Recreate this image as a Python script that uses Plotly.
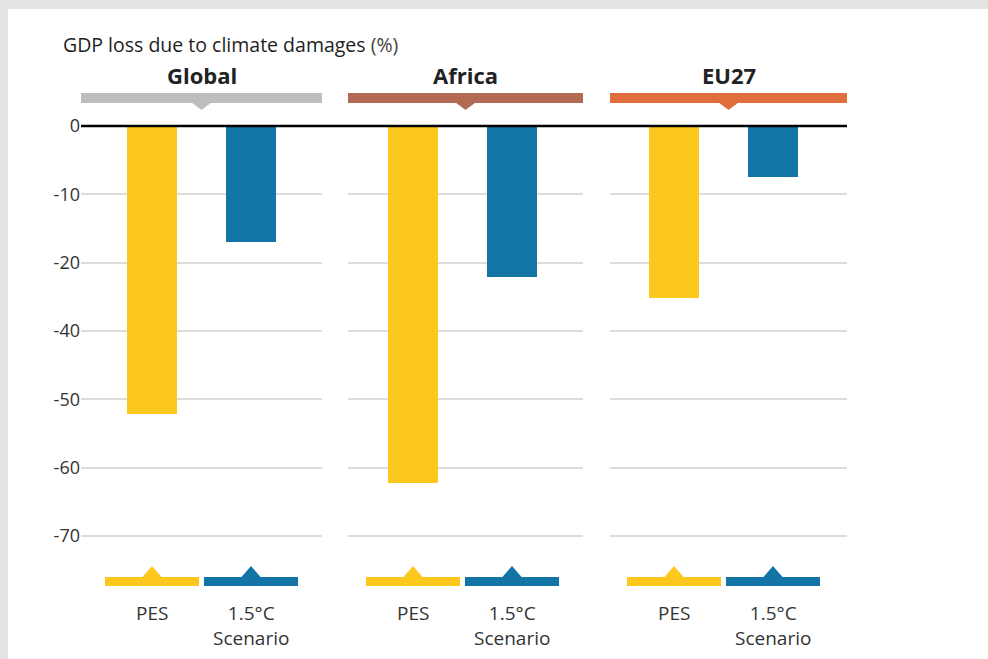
import plotly.graph_objects as go

# ---- data ----
regions = ["Global", "Africa", "EU27"]
scenarios = ["PES", "1.5°C<br>Scenario"]
pes_values = [-42.1, -52.2, -25.1]
scen15_values = [-16.9, -22.1, -7.4]
tick_vals = [0, -10, -20, -30, -40, -50, -60]
tick_text = ["0", "-10", "-20", "-40", "-50", "-60", "-70"]
title_text = "GDP loss due to climate damages"
unit_text = "(%)"

# ---- styles ----
W, H = 988, 659
region_colors = ["#bdbdbd", "#b26a55", "#df6e3c"]
series_colors = ["#fdc81e", "#1275a6"]
panel_px = [(81, 322), (348, 583), (610, 847)]
group_mid_px = [201.5, 462.5, 723.5]
UNIT_PX = 99.0
FONT = "Open Sans"

def py(px):
    return 1 - px / H

fig = go.Figure()
series = [pes_values, scen15_values]
for i, reg in enumerate(regions):
    xa = "x" if i == 0 else f"x{i+1}"
    for j, vals in enumerate(series):
        fig.add_trace(go.Bar(
            x=[j], y=[vals[i]], width=0.505, xaxis=xa, yaxis="y",
            marker=dict(color=series_colors[j], line=dict(width=0)),
            showlegend=False, hoverinfo="y",
        ))

layout = dict(
    width=W, height=H, margin=dict(l=0, r=0, t=0, b=0),
    paper_bgcolor="#e3e3e3", plot_bgcolor="rgba(0,0,0,0)",
    bargap=0, showlegend=False,
    font=dict(family=FONT, color="#333333"),
    yaxis=dict(
        domain=[py(126 + 68 * 6.83), py(126 - 3 * 6.83)], range=[-68, 3],
        tickvals=tick_vals, ticktext=tick_text, anchor="x",
        showgrid=True, gridcolor="#dcdcdc", gridwidth=2, zeroline=False,
        showline=False, ticks="", ticklabelstandoff=0,
        tickfont=dict(size=18, color="#333333", family=FONT),
    ),
)
for i, (a, b) in enumerate(panel_px):
    key = "xaxis" if i == 0 else f"xaxis{i+1}"
    lo = 0.5 - (group_mid_px[i] - a) / UNIT_PX
    hi = lo + (b - a) / UNIT_PX
    layout[key] = dict(
        domain=[a / W, b / W], range=[lo, hi], anchor="y",
        showticklabels=False, showgrid=False, zeroline=False, showline=False,
        ticks="", fixedrange=True,
    )
fig.update_layout(**layout)

shapes = []
annotations = []
# white card
shapes.append(dict(type="rect", xref="paper", yref="paper", x0=8 / W, x1=1.01,
                   y0=-0.01, y1=py(9), fillcolor="white", line=dict(width=0), layer="below"))
# zero line
shapes.append(dict(type="line", xref="paper", yref="y", x0=81 / W, x1=847 / W, y0=0, y1=0,
                   line=dict(color="black", width=2.5), layer="above"))

for i, reg in enumerate(regions):
    xd = "x domain" if i == 0 else f"x{i+1} domain"
    xr = "x" if i == 0 else f"x{i+1}"
    hw = 10 / (panel_px[i][1] - panel_px[i][0])
    shapes.append(dict(type="rect", xref=xd, yref="paper", x0=0, x1=1,
                       y0=py(103), y1=py(93), fillcolor=region_colors[i], line=dict(width=0)))
    shapes.append(dict(type="path", xref=xd, yref="paper",
                       path=f"M {0.5 - hw},{py(102.5)} L 0.5,{py(110)} L {0.5 + hw},{py(102.5)} Z",
                       fillcolor=region_colors[i], line=dict(width=0)))
    annotations.append(dict(xref=xd, yref="paper", x=0.5, y=py(75), text=f"<b>{reg}</b>",
                            showarrow=False, xanchor="center", yanchor="middle",
                            font=dict(size=22, color="#222222", family=FONT)))
    for j in range(2):
        shapes.append(dict(type="rect", xref=xr, yref="paper", x0=j - 0.475, x1=j + 0.475,
                           y0=py(586), y1=py(577), fillcolor=series_colors[j], line=dict(width=0)))
        shapes.append(dict(type="path", xref=xr, yref="paper",
                           path=f"M {j - 0.101},{py(577.5)} L {j},{py(566)} L {j + 0.101},{py(577.5)} Z",
                           fillcolor=series_colors[j], line=dict(width=0)))
        annotations.append(dict(xref=xr, yref="paper", x=j, y=py(598), text=scenarios[j],
                                showarrow=False, xanchor="center", yanchor="top", align="center",
                                font=dict(size=19, color="#333333", family=FONT)))

annotations.append(dict(xref="paper", yref="paper", x=61 / W, y=py(44),
                        text=f"{title_text} <span style='color:#444444'>{unit_text}</span>",
                        showarrow=False, xanchor="left", yanchor="middle",
                        font=dict(size=19.5, color="#1e1e1e", family=FONT)))

fig.update_layout(shapes=shapes, annotations=annotations)
fig.write_html(
    "out.html",
    config={"displayModeBar": False},
    post_script="document.body.style.margin='0';document.body.style.overflow='hidden';",
)
